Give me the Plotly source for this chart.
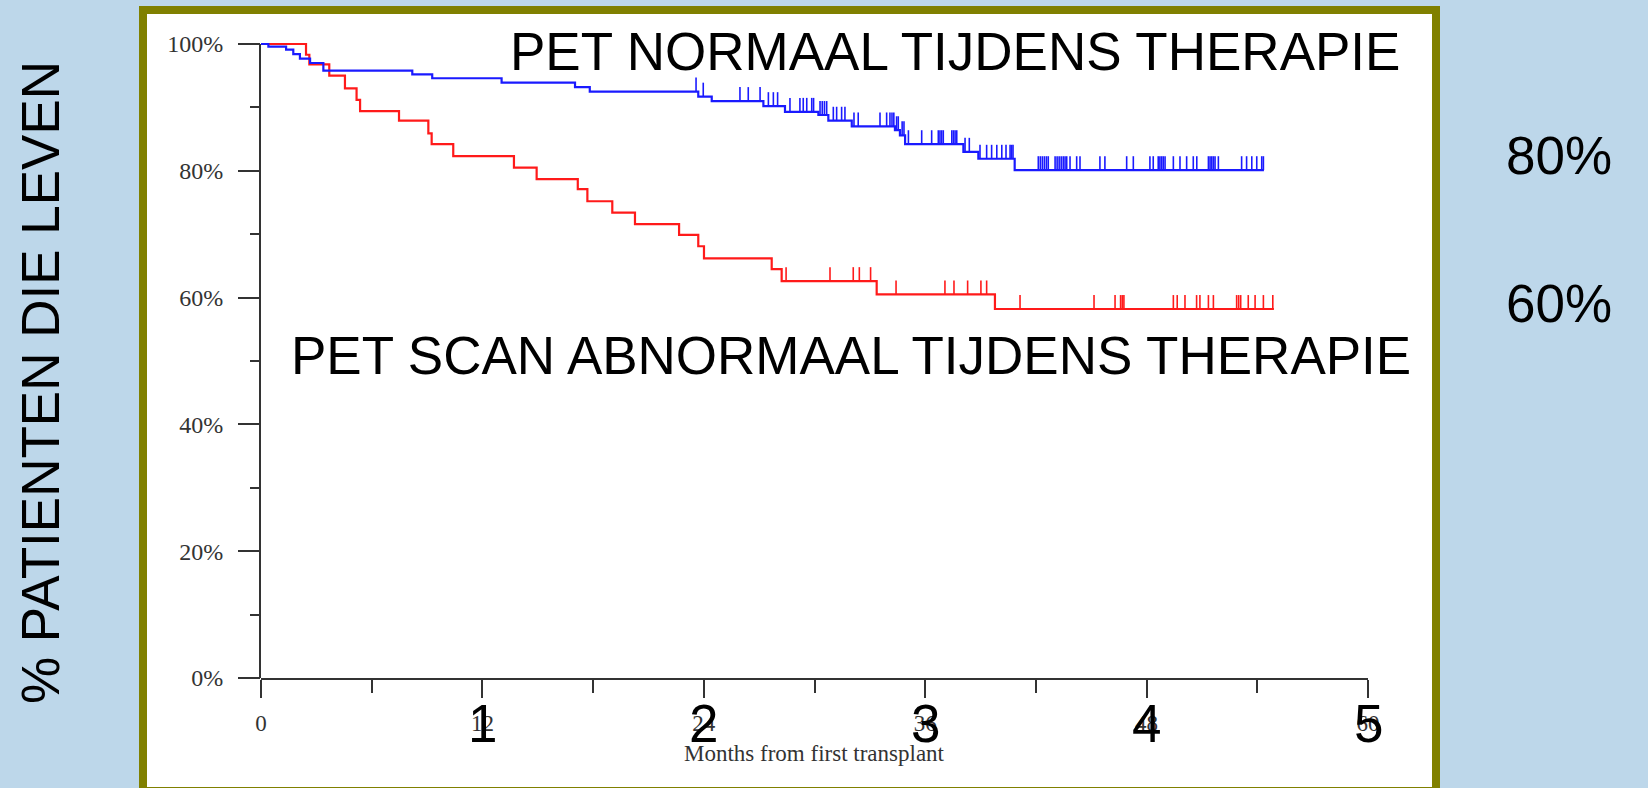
import plotly.graph_objects as go

# ---------------- data (months, survival %) ----------------
red_step_months = [0, 2.44, 2.62, 3.70, 4.55, 5.18, 5.37, 7.48, 9.07, 9.25, 10.42, 13.71,
                   14.94, 17.17, 17.69, 19.04, 20.27, 22.66, 23.70, 24.01, 27.68, 28.22,
                   33.37, 39.78]
red_step_surv = [100, 98.3, 96.8, 95.0, 93.0, 91.2, 89.4, 87.9, 85.9, 84.2, 82.3, 80.5,
                 78.7, 77.1, 75.2, 73.4, 71.6, 69.9, 68.1, 66.2, 64.5, 62.6,
                 60.5, 58.2]
red_end = 54.9
red_censor = [28.46, 30.84, 32.10, 32.43, 33.04, 34.42, 37.07, 37.56, 38.30, 39.02, 39.33,
              41.14, 45.15, 46.29, 46.59, 46.68, 46.77, 49.45, 49.66, 50.08, 50.71, 50.89,
              51.35, 51.62, 52.88, 52.99, 53.10, 53.51, 53.88, 54.33, 54.84]

blue_step_months = [0, 0.40, 1.36, 1.75, 2.11, 2.66, 3.38, 8.20, 9.28, 13.04, 17.02, 17.82,
                    23.70, 24.43, 27.23, 28.40, 30.21, 30.75, 32.02, 34.36, 34.63, 34.91,
                    38.07, 38.88, 40.85]
blue_step_surv = [100, 99.6, 99.1, 98.4, 97.7, 97.0, 95.8, 95.2, 94.6, 93.9, 93.2, 92.5,
                  91.7, 91.0, 90.2, 89.3, 88.8, 87.9, 87.0, 86.4, 85.6, 84.2,
                  83.0, 81.9, 80.1]
blue_end = 54.36
blue_censor = [23.58, 23.97, 25.96, 26.41, 27.05, 27.50, 27.77, 28.00, 28.67, 29.21, 29.39,
               29.58, 29.85, 29.95, 30.30, 30.42, 30.54, 30.66, 31.02, 31.20, 31.47, 31.65,
               32.14, 32.37, 33.55, 33.91, 34.09, 34.20, 34.30, 34.45, 34.54, 34.75, 34.85,
               35.09, 35.81, 36.35, 36.71, 36.80, 36.89, 36.98, 37.44, 37.53, 37.62, 37.71,
               38.16, 38.39, 38.97, 39.33, 39.60, 39.88, 40.15, 40.38, 40.60, 40.68, 40.76,
               42.13, 42.24, 42.35, 42.46, 42.57, 42.67, 43.04, 43.15, 43.26, 43.37, 43.48,
               43.58, 43.67, 43.85, 44.21, 44.39, 45.47, 45.74, 46.92, 47.28, 48.18, 48.36,
               48.63, 48.72, 48.81, 48.90, 49.00, 49.45, 49.81, 50.17, 50.53, 50.72, 51.35,
               51.44, 51.53, 51.62, 51.71, 51.89, 53.15, 53.42, 53.70, 53.97, 54.24, 54.33]

x_tick_months = [0, 12, 24, 36, 48, 60]
x_tick_labels = ["0", "12", "24", "36", "48", "60"]
x_minor_months = [6, 18, 30, 42, 54]
year_labels = ["1", "2", "3", "4", "5"]
year_months = [12, 24, 36, 48, 60]
y_tick_vals = [0, 20, 40, 60, 80, 100]
y_tick_labels = ["0%", "20%", "40%", "60%", "80%", "100%"]
y_minor_vals = [10, 30, 50, 70, 90]

title_normal = "PET NORMAAL TIJDENS THERAPIE"
title_abnormal = "PET SCAN ABNORMAAL TIJDENS THERAPIE"
y_title = "% PATIENTEN DIE LEVEN"
x_title = "Months from first transplant"
right_labels = ["80%", "60%"]

# ---------------- geometry helpers (pixel -> paper) ----------------
L, R, T, B = 261, 1368, 40, 678
W_FIG, H_FIG = 1648, 788


def px(x):
    return (x - L) / (R - L)


def py(y):
    return (B - y) / (B - T)


def surv_at(t, times, surv):
    s = surv[0]
    for ti, si in zip(times, surv):
        if ti <= t:
            s = si
    return s


def censor_segments(cens, times, surv, h=2.2):
    xs, ys = [], []
    for t in cens:
        s = surv_at(t, times, surv)
        xs += [t, t, None]
        ys += [s, s + h, None]
    return xs, ys


RED = "#ff1a1a"
BLUE = "#1a1aff"
AX = "#333333"
SERIF = "Liberation Serif, Times New Roman, serif"
SANS = "Liberation Sans, Arial, sans-serif"

fig = go.Figure()

for times, surv, end, cens, col in [
    (red_step_months, red_step_surv, red_end, red_censor, RED),
    (blue_step_months, blue_step_surv, blue_end, blue_censor, BLUE),
]:
    fig.add_trace(go.Scatter(x=times + [end], y=surv + [surv[-1]], mode="lines",
                             line=dict(color=col, width=2.2, shape="hv"),
                             hoverinfo="skip"))
    cx, cy = censor_segments(cens, times, surv)
    fig.add_trace(go.Scatter(x=cx, y=cy, mode="lines",
                             line=dict(color=col, width=1.6), hoverinfo="skip"))

# white slide box with olive border
fig.add_shape(type="rect", xref="paper", yref="paper",
              x0=px(143), x1=px(1436), y0=py(791), y1=py(10),
              fillcolor="white", line=dict(color="#808000", width=8), layer="below")
# y axis line
fig.add_shape(type="line", xref="paper", yref="y", x0=px(L - 1), x1=px(L - 1), y0=0, y1=100,
              line=dict(color=AX, width=2))

fig.update_layout(
    width=W_FIG, height=H_FIG,
    margin=dict(l=L, r=W_FIG - R, t=T, b=H_FIG - B, pad=0),
    paper_bgcolor="#bdd7ea", plot_bgcolor="white",
    showlegend=False,
    xaxis=dict(range=[0, 60], tickmode="array", tickvals=x_tick_months, ticktext=x_tick_labels,
               ticks="outside", ticklen=18, tickwidth=2, tickcolor=AX,
               showline=True, linewidth=2, linecolor=AX, showgrid=False, zeroline=False,
               tickfont=dict(family=SERIF, size=23, color=AX), ticklabelstandoff=5,
               minor=dict(tickmode="array", tickvals=x_minor_months, ticks="outside",
                          ticklen=13, tickwidth=2, tickcolor=AX, showgrid=False)),
    yaxis=dict(range=[0, 100.63], tickmode="array", tickvals=y_tick_vals, ticktext=y_tick_labels,
               ticks="outside", ticklen=22, tickwidth=2, tickcolor=AX,
               showline=False, showgrid=False, zeroline=False,
               tickfont=dict(family=SERIF, size=24, color=AX), ticklabelstandoff=10,
               minor=dict(tickmode="array", tickvals=y_minor_vals, ticks="outside",
                          ticklen=10, tickwidth=2, tickcolor=AX, showgrid=False)),
)

big = dict(family=SANS, size=53, color="black")
ann = [
    dict(text=title_normal, x=px(955), y=py(52)),
    dict(text=title_abnormal, x=px(851), y=py(355)),
    dict(text=right_labels[0], x=px(1559), y=py(156)),
    dict(text=right_labels[1], x=px(1559), y=py(303)),
    dict(text=y_title, x=px(40), y=py(383), textangle=-90),
]
for a in ann:
    fig.add_annotation(xref="paper", yref="paper", showarrow=False, font=big,
                       xanchor="center", yanchor="middle", **a)
for lab, m in zip(year_labels, year_months):
    fig.add_annotation(xref="x", yref="paper", x=m, y=py(723), text=lab, showarrow=False,
                       font=big, xanchor="center", yanchor="middle")
fig.add_annotation(xref="x", yref="paper", x=30, y=py(753), text=x_title, showarrow=False,
                   font=dict(family=SERIF, size=23, color=AX), xanchor="center", yanchor="middle")

fig.write_html(
    "out.html",
    config={"displayModeBar": False, "staticPlot": True},
    post_script="document.body.style.margin='0';document.body.style.padding='0';"
                "document.documentElement.style.overflow='hidden';",
)
